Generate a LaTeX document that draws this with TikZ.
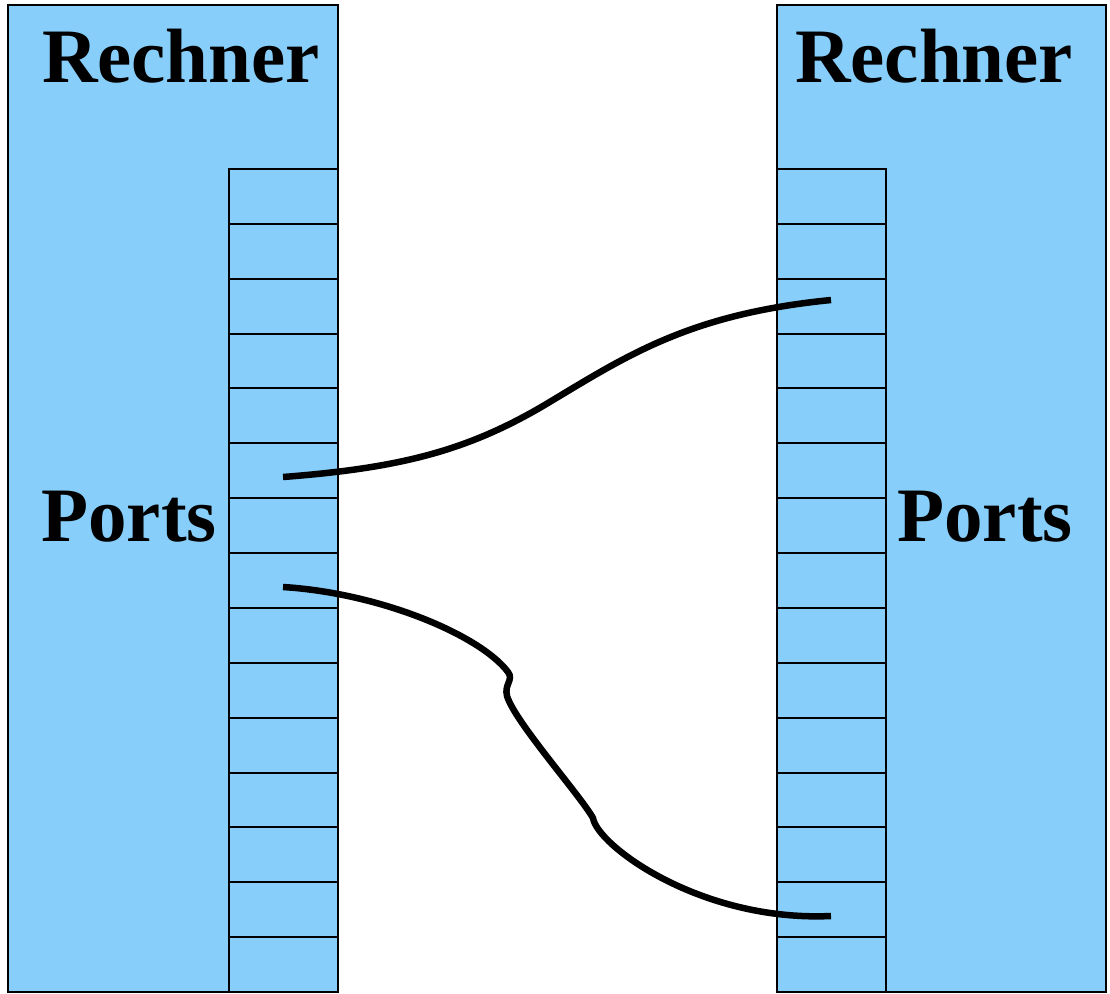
\documentclass[tikz,border=0pt]{standalone}
\usepackage{fontspec}
\setmainfont{Liberation Serif}
\usepackage{xcolor}
\usepackage{tikz}
\usetikzlibrary {positioning}
\definecolor{rechnerblue}{HTML}{87CEFA}
\tikzset{cable/.style = {line width=6.5pt}}

\begin{document}
\begin{tikzpicture}[x=1pt,y=-1pt, box/.style={draw,fill=rechnerblue,line width=2pt,inner sep=0pt,outer sep=0pt}, port/.style={box,minimum width=109pt,minimum height=54.87pt}, title/.style={font=\fontsize{77}{80}\selectfont\bfseries,anchor=base,inner sep=0pt}]
                \useasboundingbox (0,0) rectangle (1110,993);
                \node[box, minimum width=330pt, minimum height=987pt, anchor=north west] (rechner1) at (8,5) {};
                \node[box, minimum width=329pt, minimum height=987pt, anchor=north west] (rechner2) at (777,5) {};

                % port columns
                \node[port, anchor=north east] (lp1) at (338,169) {};
                \node[port, anchor=north west] (rp1) at (777,169) {};
                \foreach \i [remember=\i as \j (initially 1)] in {2,...,15} {
                    \node[port, below=0pt of lp\j] (lp\i) {};
                    \node[port, below=0pt of rp\j] (rp\i) {};
                }

                \node[title] (rechner1 text) at (181,82) {Rechner};
                \node[title] (rechner2 text) at (934,82) {Rechner};
                \node[title] (ports1 text) at (129,541) {Ports};
                \node[title] (ports2 text) at (985,541) {Ports};

                % cables
                \coordinate (c1a) at (283,477);
                \coordinate (c1b) at (831,300);
                \coordinate (c2a) at (283,587);
                \coordinate (c2b) at (831,916);
                \draw[cable] (c1a) .. controls (400,468) and (468,451) .. (548,403)
                    .. controls (628,355) and (690,314) .. (c1b);
                \draw[cable] (c2a) .. controls (380,593) and (480,635) .. (508,672)
                    .. controls (514,680) and (504,684) .. (507,696)
                    .. controls (515,722) and (580,795) .. (593,818)
                    .. controls (597,845) and (700,922) .. (c2b);
            \end{tikzpicture}
\end{document}
